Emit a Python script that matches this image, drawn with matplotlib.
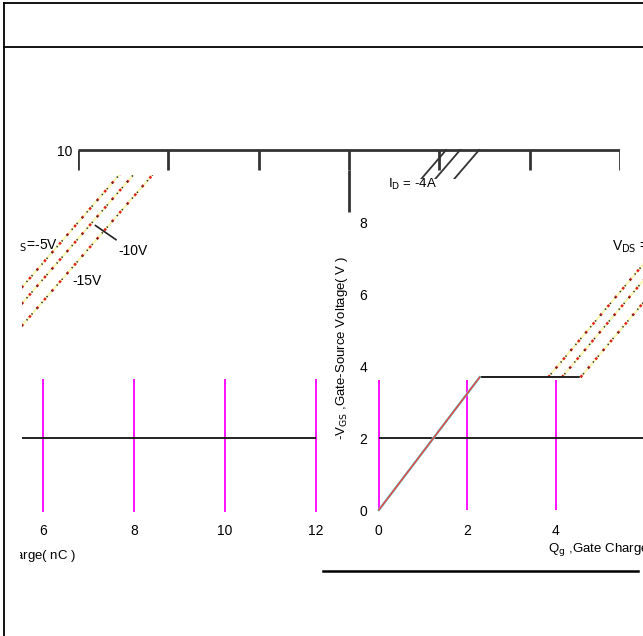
import numpy as np
import matplotlib
matplotlib.use("Agg")
import matplotlib.pyplot as plt
from matplotlib.lines import Line2D
from matplotlib.transforms import Bbox, TransformedBbox

# chart values
qg_ticks_left = [6, 8, 10, 12]
qg_ticks_right = [0, 2, 4]
qg_ticks_top = [0, 2, 4, 6, 8, 10, 12]
vgs_ticks = [0, 2, 4, 6, 8]
vds_labels = ["-5V", "-10V", "-15V"]

qg_ramp_end = 2.28        # nC where the plateau starts
vgs_plateau = 3.69        # V, Miller plateau
qg_plateau_end = [3.83, 4.14, 4.56]   # one per VDS
qg_at_10v = [8.15, 8.46, 8.88]

x_label = r"Q$_\mathrm{g}$ ,Gate Charge( nC )"
y_label = r"-V$_\mathrm{GS}$ ,Gate-Source Voltage( V )"

plt.rcParams['font.family'] = ['Liberation Sans Narrow', 'Liberation Sans', 'DejaVu Sans']
plt.rcParams['font.size'] = 9

W, H = 643, 636
fig = plt.figure(figsize=(W / 100, H / 100), dpi=100)


def px_box(l, t, r, b):
    return [l / W, 1 - b / H, (r - l) / W, (b - t) / H]


def px_line(x, y, **kw):
    fig.add_artist(Line2D([v / W for v in x], [1 - v / H for v in y],
                          transform=fig.transFigure, **kw))


# frame
px_line([4, 4], [3, 636], color="black", lw=1.3)
px_line([4, 643], [3, 3], color="black", lw=1.3)
px_line([4, 643], [47, 47], color="black", lw=1.3)
px_line([323, 638], [571, 571], color="black", lw=1.8)


def curve(i):
    q = [0, qg_ramp_end, qg_plateau_end[i], qg_at_10v[i]]
    v = [0, vgs_plateau, vgs_plateau, 10]
    return q, v


def draw_rise(ax, q, v):
    ax.plot(q[2:], v[2:], color="#f8f490", lw=1.4, alpha=0.7)
    ax.plot(q[2:], v[2:], color="#e02020", lw=1.8, ls=(0, (1.0, 3.6)))
    ax.plot(q[2:], v[2:], color="#333333", lw=1.2, ls=(2.3, (0.8, 3.8)))


def strip(ax):
    for s in ax.spines.values():
        s.set_visible(False)
    ax.tick_params(length=0)
    ax.patch.set_alpha(0)


# top strip (upper end of the plot)
ax_top = fig.add_axes(px_box(78, 148.2, 620, 178.8))
strip(ax_top)
ax_top.set_xlim(0, 12)
ax_top.set_ylim(9.2, 10.05)
ax_top.set_xticks([])
ax_top.set_yticks([10])
ax_top.set_yticklabels(["10"], fontsize=10)
ax_top.tick_params(axis="y", pad=4)
ax_top.hlines(10, 0, 12, color="#333333", lw=2)
ax_top.vlines(qg_ticks_top, 9.45, 10, color="#333333", lw=2)
ax_top.vlines(6, 8.28, 9.45, color="#333333", lw=2, clip_on=False)
for i in range(3):
    q, v = curve(i)
    ax_top.plot(q, v, color="#333333", lw=1.3)
ax_top.text(6.86, 9.03, r"I$_\mathrm{D}$ = -4A", va="center", ha="left", fontsize=9.5)

# left part (6..12 nC)
ax_l = fig.add_axes(px_box(22, 175.2, 320, 520.8))
strip(ax_l)
ax_l.set_xlim(5.54, 12.09)
ax_l.set_ylim(-0.3, 9.3)
ax_l.set_yticks([])
ax_l.set_xticks(qg_ticks_left)
ax_l.tick_params(axis="x", pad=2, labelsize=10)
ax_l.vlines(qg_ticks_left, -0.05, 3.64, color="magenta", lw=1.3)
ax_l.hlines(2, 5.54, 12, color="#222222", lw=1.4)
for i in range(3):
    q, v = curve(i)
    draw_rise(ax_l, q, v)

clip_left = TransformedBbox(Bbox.from_extents(20 / W, 0, 1, 1), fig.transFigure)
t = ax_l.text(6.33, 7.33, r"V$_\mathrm{DS}$=-5V", ha="right", va="center", fontsize=10)
t.set_clip_box(clip_left)
t.set_clip_on(True)
ax_l.annotate(vds_labels[1], xy=(7.10, 7.95), xytext=(7.65, 7.19), va="center",
              fontsize=10, arrowprops=dict(arrowstyle="-", color="#222222", lw=1.2))
ax_l.text(6.64, 6.36, vds_labels[2], ha="left", va="center", fontsize=10)
t = ax_l.text(0.181, -0.102, x_label, transform=ax_l.transAxes, ha="right", va="center", fontsize=9.5)
t.set_clip_box(clip_left)
t.set_clip_on(True)

# right part (0..6 nC)
ax_r = fig.add_axes(px_box(370, 214.8, 643, 520.8))
strip(ax_r)
ax_r.set_xlim(-0.2, 5.97)
ax_r.set_ylim(-0.3, 8.2)
ax_r.set_xticks(qg_ticks_right)
ax_r.set_yticks(vgs_ticks)
ax_r.tick_params(axis="both", pad=2, labelsize=10)
ax_r.vlines(qg_ticks_right, 0, 3.6, color="magenta", lw=1.3)
ax_r.hlines(2, 0, 5.97, color="#222222", lw=1.4)
for i in range(3):
    q, v = curve(i)
    ax_r.plot(q[1:3], v[1:3], color="#222222", lw=1.4)
    draw_rise(ax_r, q, v)
ax_r.plot([0, qg_ramp_end], [0, vgs_plateau], color="#60e8e8", lw=1.8)
ax_r.plot([0, qg_ramp_end], [0, vgs_plateau], color="#e04848", lw=1.2)
ax_r.text(5.27, 7.3, r"V$_\mathrm{DS}$ =-5V", ha="left", va="center", fontsize=10)
ax_r.text(0.652, -0.095, x_label, transform=ax_r.transAxes, ha="left", va="center", fontsize=9.5)
ax_r.text(-0.103, 0.565, y_label, transform=ax_r.transAxes, rotation=90,
          ha="center", va="center", fontsize=9.5)

fig.savefig("out.png", dpi=100)
